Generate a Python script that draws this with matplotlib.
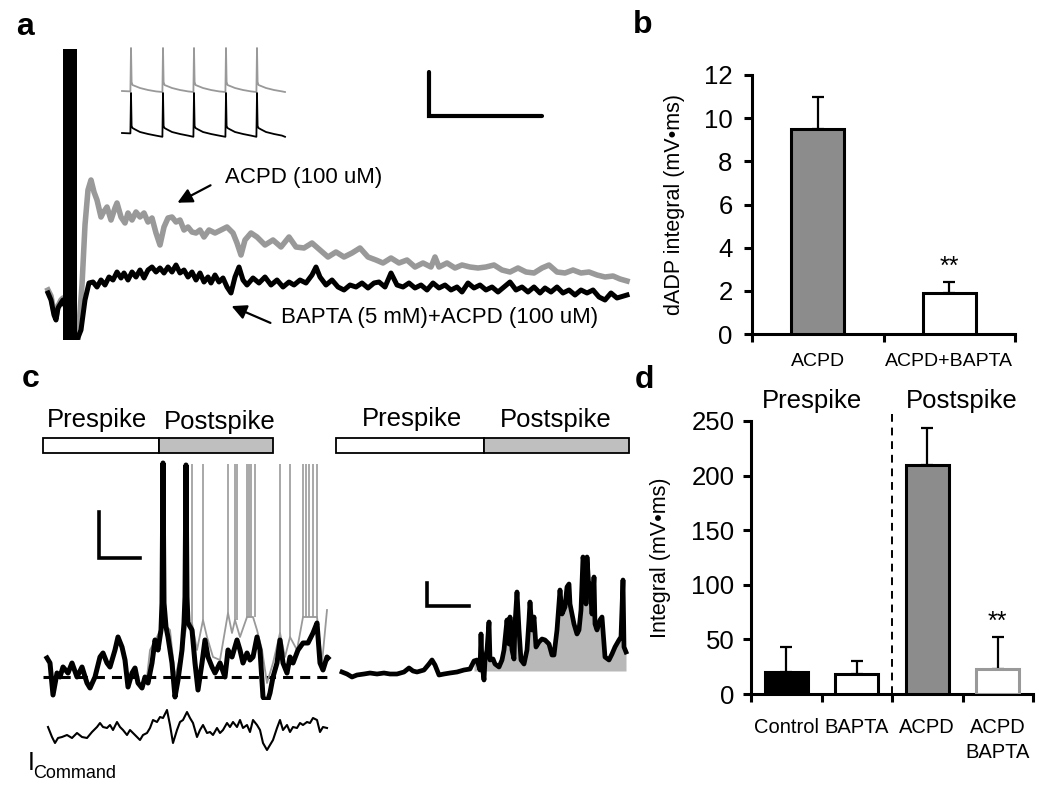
import numpy as np
import matplotlib
matplotlib.use('Agg')
import matplotlib.pyplot as plt
from matplotlib.patches import Rectangle

plt.rcParams['font.family'] = ['Liberation Sans', 'DejaVu Sans']

# ---- panel a: dADP traces (t in ms, v in mV, both arbitrary scale) ----
a_gray_t = [0, 3, 6, 8, 10, 13, 15, 30, 34, 37, 40, 43, 46, 49, 53, 55, 59, 63, 67, 69,
            73, 77, 80, 84, 88, 92, 96, 100, 104, 108, 112, 116, 120, 124, 128, 132, 136, 140, 144, 148,
            152, 156, 161, 167, 173, 179, 185, 189, 193, 197, 203, 209, 217, 225, 233, 241, 248, 256, 264, 272,
            280, 288, 296, 304, 312, 320, 328, 335, 343, 351, 359, 367, 375, 383, 387, 391, 399, 407, 414, 422,
            430, 438, 446, 454, 462, 470, 478, 486, 494, 501, 509, 517, 525, 533, 541, 549, 557, 565, 572, 579]
a_gray_v = [0.5, -0.1, -1.7, -2.3, -1.1, -0.5, -0.3, -4.5, 1.0, 7.0, 10.5, 11.5, 10.3, 9.5, 7.8, 8.2, 8.8, 7.5, 8.7, 9.2,
            7.8, 7.2, 8.2, 7.5, 8.3, 7.8, 8.2, 7.3, 7.7, 6.2, 5.0, 6.8, 7.7, 7.8, 7.3, 7.5, 6.5, 6.8, 6.3, 6.2,
            6.5, 5.8, 6.5, 6.2, 6.5, 6.8, 6.2, 5.2, 4.0, 5.5, 6.2, 5.8, 5.0, 5.5, 4.8, 5.8, 4.8, 4.7, 5.2, 4.5,
            3.8, 4.3, 3.8, 4.2, 4.7, 3.8, 3.5, 3.2, 3.7, 3.2, 3.5, 2.8, 3.2, 2.8, 3.8, 2.8, 3.2, 2.7, 3.0, 2.8,
            2.7, 2.8, 3.0, 2.5, 2.3, 2.7, 2.3, 2.2, 2.7, 3.0, 2.3, 2.2, 2.5, 2.2, 2.3, 2.0, 1.8, 1.9, 1.6, 1.4]

a_black_t = [0, 3, 6, 8, 10, 13, 15, 29, 33, 37, 41, 45, 49, 53, 57, 61, 65, 69, 73, 76,
             80, 84, 88, 92, 96, 100, 104, 108, 112, 116, 120, 124, 128, 132, 136, 140, 144, 148, 152, 156,
             160, 163, 167, 171, 175, 179, 183, 187, 191, 195, 199, 205, 211, 217, 223, 229, 235, 241, 246, 252,
             258, 264, 268, 272, 278, 284, 290, 296, 302, 308, 314, 320, 326, 331, 337, 343, 349, 355, 361, 367,
             373, 379, 385, 391, 397, 403, 409, 414, 420, 426, 432, 438, 444, 450, 456, 462, 468, 474, 480, 486,
             492, 497, 503, 509, 515, 521, 527, 533, 539, 545, 551, 557, 563, 569, 579]
a_black_v = [0.2, -0.5, -2.0, -2.5, -1.3, -0.8, -0.5, -4.5, -3.5, -0.5, 1.2, 1.3, 0.8, 1.5, 1.0, 1.8, 1.5, 2.3, 1.7, 2.2,
             1.5, 2.3, 1.8, 2.5, 1.7, 2.5, 2.8, 2.3, 2.7, 2.2, 2.8, 2.3, 3.0, 2.2, 2.5, 1.8, 2.3, 1.5, 2.2, 1.3,
             1.8, 1.2, 2.0, 1.3, 1.7, 0.8, 0.2, 1.8, 2.8, 1.5, 1.0, 1.7, 1.2, 1.8, 1.0, 1.5, 0.8, 1.3, 1.0, 1.5,
             1.2, 2.0, 2.8, 1.8, 1.0, 1.5, 0.8, 0.5, 1.0, 0.8, 1.2, 0.7, 1.2, 1.3, 0.8, 2.2, 1.0, 0.8, 1.2, 0.7,
             1.0, 0.5, 1.2, 0.7, 1.0, 0.5, 0.8, 0.3, 1.2, 0.7, 1.0, 0.5, 0.8, 0.3, 0.8, 1.3, 0.5, 0.8, 0.3, 0.8,
             0.2, 0.7, 0.3, 0.8, 0.2, 0.5, 0.0, 0.5, 0.2, 0.5, -0.2, -0.5, 0.2, -0.3, 0.0]

# inset spike trains
ins_t = [0, 8.4, 9, 9.6, 10.5, 13, 18, 26, 34, 40.4,
         41, 41.6, 42.5, 45, 50, 58, 66, 71.4,
         72, 72.6, 73.5, 76, 81, 89, 97, 103.4,
         104, 104.6, 105.5, 108, 113, 121, 129, 134.4,
         135, 135.6, 136.5, 139, 144, 152, 160, 163]
ins_gray_v = [25.5, 25.3, 47, 30, 28.5, 28, 27, 26, 25.3, 25,
              47, 30, 28.5, 28, 27, 26, 25.3, 25,
              47, 30, 28.5, 28, 27, 26, 25.3, 25,
              47, 30, 28.5, 28, 27, 26, 25.3, 25,
              47, 30, 28.5, 28, 27, 26, 25.3, 25]
ins_black_v = [4.5, 4.3, 24.5, 8, 7, 6.3, 5, 4, 3.2, 2.6,
               24.5, 8, 7, 6.3, 5, 4, 3.2, 2.6,
               24.5, 8, 7, 6.3, 5, 4, 3.2, 2.6,
               24.5, 8, 7, 6.3, 5, 4, 3.2, 2.6,
               24.5, 8, 7, 6.3, 5, 4, 3.2, 2.6]

# ---- panel b ----
b_labels = ['ACPD', 'ACPD+BAPTA']
b_vals = [9.5, 1.9]
b_err = [1.5, 0.5]

# ---- panel c left: membrane potential and command current ----
c_black_t = [0, 3, 6, 10, 13, 16, 21, 25, 30, 35, 40, 43, 48, 53, 56, 60, 63, 68, 71, 75,
             78, 81, 85, 88, 91, 95, 98, 101, 105, 108, 111, 114, 115, 116, 117, 119, 121, 125, 128, 131,
             135, 137, 138, 139, 140, 141, 145, 148, 151, 155, 158, 161, 165, 168, 173, 178, 181, 185, 190, 193,
             196, 200, 203, 206, 210, 213, 216, 220, 223, 226, 230, 233, 236, 240, 243, 246, 251, 256, 261, 266,
             270, 273, 276, 280, 281]
c_black_v = [1.9, 1.4, -1.8, 0.4, 0.0, 1.0, 0.4, 1.4, 0.0, 1.0, -0.6, -1.1, 0.0, 2.0, 2.4, 1.4, 1.0, 2.7, 4.0, 3.0,
             1.7, -1.0, 0.4, 0.9, -0.6, -1.1, 0.0, -0.6, 1.4, 3.7, 2.7, 4.7, 7.4, 21.4, 7.4, 5.0, 4.0, 1.4, -2.0, -0.3,
             2.7, 5.4, 8.0, 21.2, 8.0, 5.4, 4.7, 1.4, -1.3, 1.4, 3.7, 2.0, 1.0, 0.4, 1.4, 0.0, 2.7, 2.0, 3.7, 2.7,
             1.4, 2.4, 1.7, 2.0, 4.0, 2.7, -2.0, -2.6, -1.6, 0.0, 1.4, 3.7, 1.4, 0.4, 2.0, 1.4, 2.7, 3.4, 3.4, 4.4,
             5.4, 1.4, 0.7, 2.0, 1.9]

c_gray_t = [100, 103, 110, 116, 123, 128, 135, 140, 145, 150, 156, 160, 166, 173, 181, 185, 188, 193, 200, 206,
            210, 215, 220, 226, 233, 238, 243, 250, 256, 263, 270, 275, 280]
c_gray_v = [0.0, 2.7, 4.0, 5.4, 4.7, 0.0, 2.7, 5.4, 5.4, 2.7, 5.7, 4.0, 2.0, 1.7, 6.4, 4.4, 5.7, 4.0, 6.0, 6.0,
            4.7, 2.7, -0.6, 1.4, 4.4, 2.0, 4.0, 2.7, 6.0, 6.0, 6.0, 1.4, 6.7]
c_spike_t = [116, 140, 145, 156, 181, 188, 190, 200, 202, 204, 208, 233, 243, 256, 259, 262, 266, 270]
c_spike_base = [5.4, 5.4, 5.4, 5.7, 6.4, 5.7, 5.7, 6.0, 6.0, 6.0, 6.0, 4.4, 4.0, 6.0, 6.0, 6.0, 6.0, 6.0]
c_spike_peak = 21.3

cmd_t = [1, 5, 8, 11, 15, 20, 25, 30, 35, 40, 45, 50, 53, 56, 60, 63, 66, 70, 73, 76,
         80, 83, 86, 90, 93, 96, 100, 103, 106, 110, 113, 116, 120, 123, 126, 130, 133, 136, 140, 143,
         146, 150, 153, 156, 160, 163, 166, 170, 173, 176, 180, 183, 186, 190, 193, 196, 200, 203, 206, 210,
         213, 216, 220, 223, 226, 230, 233, 236, 240, 243, 246, 250, 253, 256, 260, 263, 266, 270, 273, 276,
         280]
cmd_i = [23, 13, 7, 12, 13, 15, 12, 17, 13, 12, 18, 23, 27, 23, 22, 25, 20, 28, 23, 20,
         15, 20, 17, 13, 10, 15, 17, 22, 30, 28, 33, 32, 40, 25, 7, 20, 28, 30, 38, 32,
         27, 13, 20, 25, 17, 18, 15, 22, 17, 20, 27, 23, 28, 23, 30, 22, 25, 18, 30, 25,
         20, 7, 0, 5, 10, 22, 30, 20, 25, 18, 23, 22, 27, 25, 28, 27, 32, 30, 18, 23,
         22]

# ---- panel c right: postspike integral ----
cr_t = [0, 5, 10, 15, 22, 28, 35, 42, 48, 55, 62, 67, 71, 75, 82, 87, 90, 93, 97, 102,
        108, 115, 122, 128, 132, 135, 138, 139, 140, 142, 143, 145, 147, 148, 151, 153, 157, 160, 162, 165,
        167, 168, 170, 172, 173, 175, 177, 179, 182, 185, 187, 188, 190, 192, 194, 197, 200, 203, 207, 210,
        212, 215, 218, 220, 223, 225, 227, 228, 232, 235, 237, 239, 241, 242, 244, 245, 247, 248, 250, 252,
        253, 255, 258, 260, 263, 267, 270, 273, 277, 279, 281, 282, 284]
cr_v = [0.0, -0.2, -0.5, -0.3, -0.2, -0.1, -0.2, -0.1, -0.2, -0.2, 0.0, 0.4, 0.1, 0.0, 0.2, 0.8, 1.2, 0.7, -0.3, -0.2,
        -0.1, 0.0, 0.2, 0.3, 1.1, 1.2, 0.2, 3.8, 0.8, -0.8, 1.2, 2.2, 5.0, 1.2, 1.3, 0.8, 0.5, 1.2, 2.2, 5.2,
        2.8, 5.5, 2.2, 1.3, 4.8, 8.0, 4.2, 1.2, 0.8, 2.2, 5.2, 7.0, 4.2, 5.5, 2.5, 3.0, 3.3, 3.2, 2.8, 1.7,
        1.7, 4.2, 8.2, 5.8, 6.5, 8.5, 8.8, 6.8, 4.8, 3.8, 4.2, 6.2, 11.5, 10.8, 6.8, 11.5, 8.2, 8.8, 5.8, 9.5,
        4.8, 4.2, 5.2, 5.5, 1.5, 1.2, 1.8, 2.5, 3.2, 3.5, 9.2, 2.5, 2.0]
cr_fill_start = 132

# ---- panel d ----
d_labels = ['Control', 'BAPTA', 'ACPD', 'ACPD\nBAPTA']
d_vals = [20, 18, 210, 23]
d_err = [23, 12, 34, 29]

W, H = 1050, 791
fig = plt.figure(figsize=(W / 100, H / 100), dpi=100)


def box(x0, y0, x1, y1):
    # axes from a pixel box (top-left origin)
    return fig.add_axes([x0 / W, 1 - y1 / H, (x1 - x0) / W, (y1 - y0) / H])


def ftext(x, y, s, **kw):
    fig.text(x / W, 1 - y / H, s, **kw)


GRAY = '#999999'
BARGRAY = '#8c8c8c'

# panel a
axa = box(40, 40, 640, 340)
axa.axis('off')
axa.set_xlim(-8, 592)
axa.set_ylim(-4.5, 25.5)
axa.plot(a_gray_t, a_gray_v, color=GRAY, lw=4.0, zorder=2)
axa.plot(a_black_t, a_black_v, color='black', lw=3.6, zorder=3)
axa.fill_betweenx([-4.5, 24.6], 15, 29, color='black', lw=0, zorder=4)
axa.plot([381, 381, 494], [22.3, 17.9, 17.9], color='black', lw=3, solid_capstyle='round', solid_joinstyle='miter')
axa.annotate('', xy=(127, 9.1), xytext=(165, 11.1),
             arrowprops=dict(arrowstyle='-|>', color='black', lw=1.6, mutation_scale=22))
axa.text(177, 11.8, 'ACPD (100 uM)', fontsize=16, ha='left', va='center')
axa.annotate('', xy=(181, -1.0), xytext=(225, -2.9),
             arrowprops=dict(arrowstyle='-|>', color='black', lw=1.6, mutation_scale=22), annotation_clip=False)
axa.text(233, -2.3, 'BAPTA (5 mM)+ACPD (100 uM)', fontsize=16, ha='left', va='center', clip_on=False)

axi = box(118, 44, 292, 142)
axi.axis('off')
axi.set_xlim(-4, 170)
axi.set_ylim(0, 49)
axi.plot(ins_t, ins_gray_v, color=GRAY, lw=1.3)
axi.plot(ins_t, ins_black_v, color='black', lw=1.3)

# panel b
axb = box(752, 75, 1015, 334)
axb.bar([0, 1], b_vals, width=0.4, color=[BARGRAY, 'white'], edgecolor='black', linewidth=2.2, zorder=3)
axb.errorbar([0, 1], b_vals, yerr=[[0, 0], b_err], fmt='none', ecolor='black',
             elinewidth=1.6, capsize=4, capthick=1.6, zorder=2)
axb.set_xlim(-0.5, 1.5)
axb.set_ylim(0, 12)
axb.set_yticks(range(0, 13, 2))
axb.set_xticks([-0.5, 0.5, 1.5])
axb.set_xticklabels([])
axb.set_xticks([0, 1], minor=True)
axb.set_xticklabels(b_labels, minor=True, fontsize=14)
axb.tick_params(axis='x', which='minor', length=0, pad=14)
axb.tick_params(which='major', length=6, width=2.2, direction='out', labelsize=18.5)
axb.tick_params(axis='y', pad=8)
axb.set_ylabel('dADP integral (mV\u2022ms)', fontsize=15.5)
axb.yaxis.set_label_coords(-0.255, 0.5)
axb.text(1, b_vals[1] + b_err[1] + 0.15, '**', ha='center', va='bottom', fontsize=18)

# panel d
axd = box(751, 421, 1033, 694)
axd.bar(range(4), d_vals, width=0.61, color=['black', 'white', BARGRAY, 'white'],
        edgecolor=['black', 'black', 'black', GRAY], linewidth=2.2, zorder=3)
axd.errorbar(range(4), d_vals, yerr=[[0] * 4, d_err], fmt='none', ecolor='black',
             elinewidth=1.6, capsize=4, capthick=1.6, zorder=2)
axd.set_xlim(-0.5, 3.5)
axd.set_ylim(0, 250)
axd.set_yticks(range(0, 251, 50))
axd.set_xticks([-0.5, 0.5, 1.5, 2.5, 3.5])
axd.set_xticklabels([])
axd.set_xticks(range(4), minor=True)
axd.set_xticklabels(d_labels, minor=True, fontsize=14.5, linespacing=1.45)
axd.tick_params(axis='x', which='minor', length=0, pad=17)
axd.tick_params(which='major', length=6, width=2.2, direction='out', labelsize=18.5)
axd.tick_params(axis='y', pad=6)
axd.set_ylabel('Integral (mV\u2022ms)', fontsize=15.5)
axd.yaxis.set_label_coords(-0.284, 0.5)
axd.plot([1.5, 1.5], [0, 260], color='black', lw=1.4, dashes=(4, 3), clip_on=False, zorder=1)
axd.text(0.37, 262, 'Prespike', fontsize=18.5, ha='center', va='baseline', clip_on=False)
axd.text(2.49, 262, 'Postspike', fontsize=18.5, ha='center', va='baseline', clip_on=False)
axd.text(3, d_vals[3] + d_err[3] + 3, '**', ha='center', va='bottom', fontsize=18)

for ax in (axb, axd):
    ax.spines['top'].set_visible(False)
    ax.spines['right'].set_visible(False)
    ax.spines['left'].set_linewidth(2.2)
    ax.spines['bottom'].set_linewidth(2.2)

# panel c left
axc = box(40, 400, 335, 700)
axc.axis('off')
axc.set_xlim(-7, 288)
axc.set_ylim(-2.3, 27.7)
axc.add_patch(Rectangle((-4, 22.4), 116, 1.5, facecolor='white', edgecolor='black', lw=1.3))
axc.add_patch(Rectangle((112, 22.4), 114, 1.5, facecolor='#bfbfbf', edgecolor='black', lw=1.3))
axc.text(50, 25.0, 'Prespike', fontsize=18.5, ha='center', va='baseline')
axc.text(173, 24.8, 'Postspike', fontsize=18.5, ha='center', va='baseline')
axc.plot([-4, 281], [0, 0], color='black', lw=2.2, dashes=(3.3, 2.3), zorder=1)
axc.vlines(c_spike_t, c_spike_base, c_spike_peak, color=GRAY, lw=1.2, zorder=2)
axc.plot(c_gray_t, c_gray_v, color=GRAY, lw=1.3, zorder=2)
axc.plot(c_black_t, c_black_v, color='black', lw=3.6, zorder=3)
axc.plot([52, 52, 93], [16.5, 11.9, 11.9], color='black', lw=2.6, solid_joinstyle='miter')

axcmd = box(40, 705, 335, 760)
axcmd.axis('off')
axcmd.set_xlim(-7, 288)
axcmd.set_ylim(-10, 45)
axcmd.plot(cmd_t, cmd_i, color='black', lw=1.5)
ftext(28, 770, 'I', fontsize=18, ha='left', va='baseline')
ftext(33, 778, 'Command', fontsize=13, ha='left', va='baseline')

# panel c right
axr = box(335, 400, 640, 700)
axr.axis('off')
axr.set_xlim(-7, 298)
axr.set_ylim(-2.8, 27.2)
axr.add_patch(Rectangle((-6, 21.9), 148, 1.5, facecolor='white', edgecolor='black', lw=1.3))
axr.add_patch(Rectangle((142, 21.9), 145, 1.5, facecolor='#bfbfbf', edgecolor='black', lw=1.3))
axr.text(70, 24.6, 'Prespike', fontsize=18.5, ha='center', va='baseline')
axr.text(214, 24.5, 'Postspike', fontsize=18.5, ha='center', va='baseline')
cr_t_arr = np.array(cr_t)
cr_v_arr = np.array(cr_v)
axr.fill_between(cr_t_arr, 0.1, np.maximum(cr_v_arr, 0.1), where=cr_t_arr >= cr_fill_start,
                 color='#b8b8b8', lw=0, zorder=1)
axr.plot(cr_t, cr_v, color='black', lw=3.4, zorder=2)
axr.plot([85, 85, 127], [8.9, 6.6, 6.6], color='black', lw=2.6, solid_joinstyle='miter')

# panel letters
for x, y, s in [(16, 35, 'a'), (633, 33, 'b'), (22, 387, 'c'), (635, 388, 'd')]:
    ftext(x, y, s, fontsize=23, fontweight='bold', ha='left', va='baseline')

fig.savefig('out.png', dpi=100)
